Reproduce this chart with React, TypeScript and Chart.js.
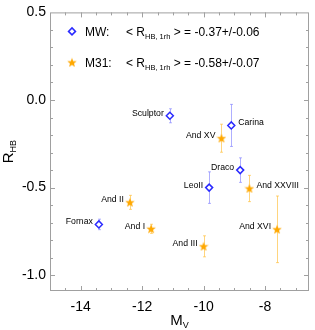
import React, { useEffect, useRef } from 'react';
import { Chart, registerables } from 'chart.js';

Chart.register(...registerables);

// ---------- data ----------
const mwNames = ['Sculptor', 'Carina', 'Draco', 'LeoII', 'Fornax'];
const mwMv = [-11.1, -9.1, -8.81, -9.82, -13.41];
const mwRhb = [-0.09, -0.145, -0.4, -0.5, -0.71];
const mwErr = [0.04, 0.12, 0.07, 0.09, 0.03];

const m31Names = ['And II', 'And I', 'And XV', 'And XXVIII', 'And XVI', 'And III'];
const m31Mv = [-12.4, -11.71, -9.42, -8.51, -7.61, -10.0];
const m31Rhb = [-0.584, -0.735, -0.218, -0.505, -0.738, -0.835];
const m31Err = [0.04, 0.026, 0.08, 0.075, 0.19, 0.06];

const xTickValues = [-14, -12, -10, -8];
const yTickValues = [0.5, 0.0, -0.5, -1.0];

const legendLabels = ['MW:', 'M31:'];
const legendValues = ['-0.37+/-0.06', '-0.58+/-0.07'];

// label side: 'L' = text left of point, 'R' = text right of point
const mwLabelSide = ['L', 'R', 'L', 'L', 'L'];
const m31LabelSide = ['L', 'L', 'L', 'R', 'L', 'L'];

// ---------- styles ----------
const FONT = '"Liberation Sans", Arial, Helvetica, sans-serif';
const BLUE = '#2a2aff';
const BLUE_ERR = 'rgba(110,110,255,0.55)';
const ORANGE = '#ffa800';
const ORANGE_ERR = 'rgba(255,185,40,0.6)';
const FRAME = '#a0a0a0';

function makeStar(size: number, color: string): HTMLCanvasElement {
  const c = document.createElement('canvas');
  c.width = size;
  c.height = size;
  const g = c.getContext('2d')!;
  const cx = size / 2, cy = size / 2 + 0.4;
  const R = size / 2, r = R * 0.42;
  g.beginPath();
  for (let i = 0; i < 10; i++) {
    const rad = i % 2 === 0 ? R : r;
    const a = -Math.PI / 2 + (i * Math.PI) / 5;
    const px = cx + rad * Math.cos(a);
    const py = cy + rad * Math.sin(a);
    if (i === 0) g.moveTo(px, py); else g.lineTo(px, py);
  }
  g.closePath();
  g.fillStyle = color;
  g.fill();
  return c;
}

function drawDiamond(ctx: CanvasRenderingContext2D, x: number, y: number, r: number) {
  ctx.save();
  ctx.beginPath();
  ctx.moveTo(x, y - r);
  ctx.lineTo(x + r, y);
  ctx.lineTo(x, y + r);
  ctx.lineTo(x - r, y);
  ctx.closePath();
  ctx.fillStyle = '#fff';
  ctx.fill();
  ctx.strokeStyle = BLUE;
  ctx.lineWidth = 1.5;
  ctx.stroke();
  ctx.restore();
}

const errorBarPlugin = {
  id: 'errorBars',
  beforeDatasetsDraw(chart: any) {
    const { ctx, scales } = chart;
    const y = scales.y;
    const sets = [
      { err: mwErr, color: BLUE_ERR },
      { err: m31Err, color: ORANGE_ERR },
    ];
    ctx.save();
    sets.forEach((s, di) => {
      const meta = chart.getDatasetMeta(di);
      const data = chart.data.datasets[di].data as any[];
      ctx.strokeStyle = s.color;
      ctx.lineWidth = 1;
      meta.data.forEach((pt: any, i: number) => {
        const px = Math.round(pt.x) + 0.5;
        const top = y.getPixelForValue(data[i].y + s.err[i]);
        const bot = y.getPixelForValue(data[i].y - s.err[i]);
        ctx.beginPath();
        ctx.moveTo(px, top);
        ctx.lineTo(px, bot);
        ctx.moveTo(px - 1.5, top);
        ctx.lineTo(px + 1.5, top);
        ctx.moveTo(px - 1.5, bot);
        ctx.lineTo(px + 1.5, bot);
        ctx.stroke();
      });
    });
    ctx.restore();
  },
};

const pointLabelPlugin = {
  id: 'pointLabels',
  afterDatasetsDraw(chart: any) {
    const { ctx } = chart;
    const sets = [
      { names: mwNames, side: mwLabelSide },
      { names: m31Names, side: m31LabelSide },
    ];
    ctx.save();
    ctx.font = `8.7px ${FONT}`;
    ctx.fillStyle = '#000';
    ctx.textBaseline = 'middle';
    sets.forEach((s, di) => {
      const meta = chart.getDatasetMeta(di);
      meta.data.forEach((pt: any, i: number) => {
        if (s.side[i] === 'R') {
          ctx.textAlign = 'left';
          ctx.fillText(s.names[i], pt.x + 7, pt.y - 2.5);
        } else {
          ctx.textAlign = 'right';
          ctx.fillText(s.names[i], pt.x - 6, pt.y - 2.5);
        }
      });
    });
    ctx.restore();
  },
};

const framePlugin = {
  id: 'frameTicks',
  afterDraw(chart: any) {
    const { ctx, chartArea: a, scales } = chart;
    const x = scales.x, y = scales.y;
    ctx.save();
    ctx.strokeStyle = FRAME;
    ctx.lineWidth = 1;
    ctx.strokeRect(a.left + 0.5, a.top + 0.5, a.right - a.left - 1, a.bottom - a.top - 1);
    ctx.beginPath();
    // x ticks (major every 2, minor every 0.5)
    for (let k = -30; k <= -13; k++) {
      const v = k / 2;
      const px = Math.round(x.getPixelForValue(v)) + 0.5;
      if (px <= a.left + 1 || px >= a.right - 1) continue;
      const len = v % 2 === 0 ? 5 : 3;
      ctx.moveTo(px, a.bottom);
      ctx.lineTo(px, a.bottom - len);
      ctx.moveTo(px, a.top);
      ctx.lineTo(px, a.top + len);
    }
    // y ticks (major every 0.5, minor every 0.1)
    for (let k = -11; k <= 5; k++) {
      const v = k / 10;
      const py = Math.round(y.getPixelForValue(v)) + 0.5;
      if (py <= a.top + 1 || py >= a.bottom - 1) continue;
      const len = k % 5 === 0 ? 5 : 3;
      ctx.moveTo(a.left, py);
      ctx.lineTo(a.left + len, py);
      ctx.moveTo(a.right, py);
      ctx.lineTo(a.right - len, py);
    }
    ctx.stroke();

    // axis titles
    ctx.fillStyle = '#000';
    ctx.textBaseline = 'alphabetic';
    ctx.textAlign = 'left';
    // x title M_V
    ctx.font = `15px ${FONT}`;
    const mW = ctx.measureText('M').width;
    ctx.font = `9px ${FONT}`;
    const vW = ctx.measureText('V').width;
    const cx = (a.left + a.right) / 2;
    let sx = cx - (mW + vW) / 2;
    ctx.font = `15px ${FONT}`;
    ctx.fillText('M', sx, 325);
    ctx.font = `9px ${FONT}`;
    ctx.fillText('V', sx + mW, 328);

    // y title R_HB (rotated)
    ctx.save();
    const cy = (a.top + a.bottom) / 2;
    ctx.translate(13, cy);
    ctx.rotate(-Math.PI / 2);
    ctx.font = `15px ${FONT}`;
    const rW = ctx.measureText('R').width;
    ctx.font = `9px ${FONT}`;
    const hbW = ctx.measureText('HB').width;
    const start = -(rW + hbW) / 2;
    ctx.font = `15px ${FONT}`;
    ctx.fillText('R', start, 0);
    ctx.font = `9px ${FONT}`;
    ctx.fillText('HB', start + rW, 3);
    ctx.restore();

    // legend
    const rows = [0, 1];
    rows.forEach((r) => {
      const my = a.top + 19 + r * 31;
      const mx = a.left + 22;
      if (r === 0) drawDiamond(ctx, mx, my, 3.5);
      else ctx.drawImage(starImg, mx - starImg.width / 2, my - starImg.height / 2);
      const base = my + 4.5;
      ctx.fillStyle = '#000';
      ctx.textAlign = 'left';
      ctx.font = `12px ${FONT}`;
      ctx.fillText(legendLabels[r], a.left + 35, base);
      let tx = a.left + 76;
      const t1 = '< R';
      ctx.fillText(t1, tx, base);
      tx += ctx.measureText(t1).width;
      ctx.font = `7.5px ${FONT}`;
      const sub = 'HB, 1rh';
      ctx.fillText(sub, tx, base + 3);
      tx += ctx.measureText(sub).width;
      ctx.font = `12px ${FONT}`;
      ctx.fillText(' > = ' + legendValues[r], tx, base);
    });
    ctx.restore();
  },
};

const starImg = makeStar(10, ORANGE);

export default function App() {
  const ref = useRef<HTMLCanvasElement>(null);

  useEffect(() => {
    document.body.style.margin = '0';
    const canvas = ref.current!;
    const chart = new Chart(canvas, {
      type: 'scatter',
      data: {
        datasets: [
          {
            label: 'MW',
            data: mwMv.map((v, i) => ({ x: v, y: mwRhb[i] })),
            pointStyle: 'rectRot',
            pointRadius: 3.5,
            pointHoverRadius: 3.5,
            borderColor: BLUE,
            backgroundColor: '#ffffff',
            borderWidth: 1.5,
          },
          {
            label: 'M31',
            data: m31Mv.map((v, i) => ({ x: v, y: m31Rhb[i] })),
            pointStyle: starImg as any,
            pointRadius: 5,
            borderColor: ORANGE,
            backgroundColor: ORANGE,
          },
        ],
      },
      options: {
        responsive: false,
        animation: false,
        devicePixelRatio: 1,
        layout: { padding: { top: 2, right: 2, left: 0, bottom: 0 } },
        plugins: {
          legend: { display: false },
          tooltip: { enabled: false },
          title: { display: false },
        },
        scales: {
          x: {
            type: 'linear',
            min: -15,
            max: -6.57,
            grid: { display: false, drawTicks: false },
            border: { display: false },
            afterBuildTicks: (s: any) => {
              s.ticks = xTickValues.map((v) => ({ value: v }));
            },
            afterFit: (s: any) => {
              s.height = 39;
            },
            ticks: {
              padding: 8,
              color: '#000',
              font: { family: FONT, size: 14 },
              maxRotation: 0,
              autoSkip: false,
              callback: (v: any) => String(v),
            },
          },
          y: {
            type: 'linear',
            min: -1.09,
            max: 0.5,
            grid: { display: false, drawTicks: false },
            border: { display: false },
            afterBuildTicks: (s: any) => {
              s.ticks = yTickValues.map((v) => ({ value: v }));
            },
            afterFit: (s: any) => {
              s.width = 50;
            },
            ticks: {
              padding: 4,
              color: '#000',
              font: { family: FONT, size: 14 },
              autoSkip: false,
              callback: (v: any) => Number(v).toFixed(1),
            },
          },
        },
      },
      plugins: [errorBarPlugin, pointLabelPlugin, framePlugin],
    });
    return () => chart.destroy();
  }, []);

  return (
    <div style={{ width: 315, height: 330 }}>
      <canvas ref={ref} width={315} height={330} style={{ display: 'block' }} />
    </div>
  );
}
